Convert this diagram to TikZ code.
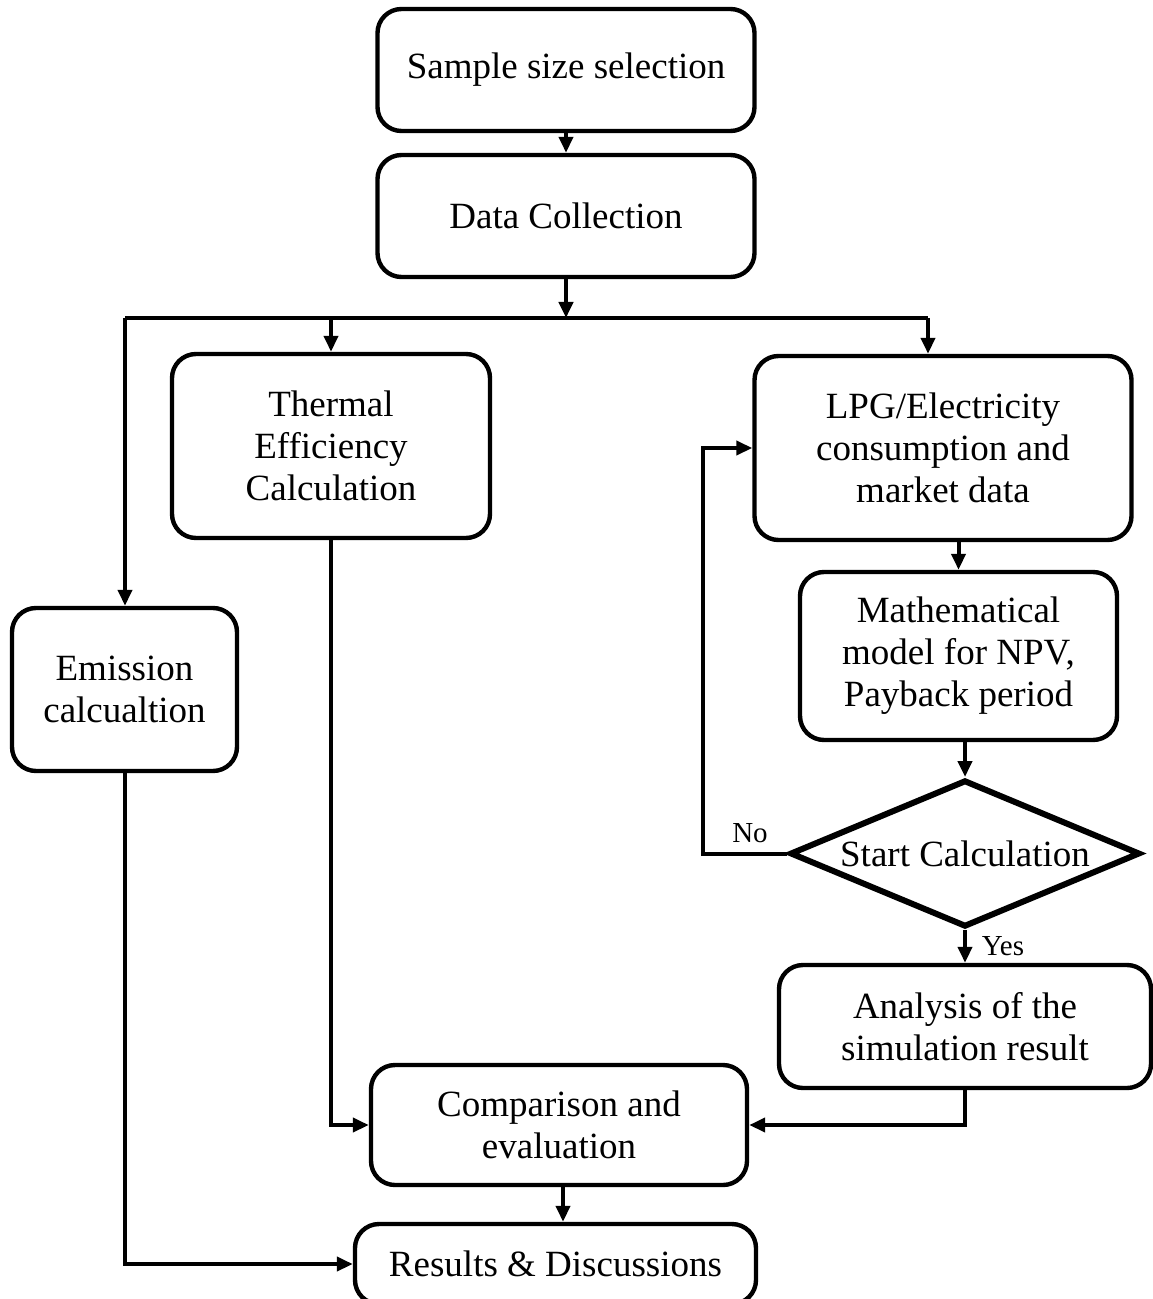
\documentclass[tikz,border=0pt]{standalone}
\usepackage{fontspec}
\setmainfont{Liberation Serif}
\usetikzlibrary{shapes.geometric,arrows.meta}
\begin{document}
\begin{tikzpicture}[x=0.5pt,y=-0.5pt,
  box/.style={draw,line width=2.2pt,rounded corners=12pt,align=center,inner sep=0pt,
    font=\fontsize{18.5}{21}\selectfont},
  dia/.style={draw,line width=3pt,diamond,aspect=2.4,inner sep=0pt,
    minimum width=175pt,minimum height=73.5pt,font=\fontsize{18.5}{21}\selectfont},
  arr/.style={line width=2pt,-{Triangle[length=8pt,width=7pt]}},
  ln/.style={line width=2pt},
  lbl/.style={font=\fontsize{14.5}{16}\selectfont,inner sep=0pt}]
\useasboundingbox (0,0) rectangle (1152,1299);
\node[box,minimum width=188.5pt,minimum height=61pt] (ss) at (566,70) {Sample size selection};
\node[box,minimum width=188.5pt,minimum height=61pt] (dc) at (566,216) {Data Collection};
\node[box,minimum width=159pt,minimum height=92pt] (th) at (331,446) {Thermal\\Efficiency\\Calculation};
\node[box,minimum width=188.5pt,minimum height=92pt] (lpg) at (943,448) {LPG/Electricity\\consumption and\\market data};
\node[box,minimum width=112.5pt,minimum height=81.5pt] (em) at (124.5,689.5) {Emission\\calcualtion};
\node[box,minimum width=158.5pt,minimum height=84pt] (mm) at (958.5,656) {Mathematical\\model for NPV,\\Payback period};
\node[dia] (dm) at (965,853.5) {Start Calculation};
\node[box,minimum width=186pt,minimum height=61.5pt] (an) at (965,1026.5) {Analysis of the\\simulation result};
\node[box,minimum width=188pt,minimum height=60pt] (cmp) at (559,1125) {Comparison and\\evaluation};
\node[box,minimum width=200.5pt,minimum height=40pt] (rs) at (555.5,1264) {Results \& Discussions};
\node[lbl] (no) at (750,833) {No};
\node[lbl] (yes) at (1003,946) {Yes};
\coordinate (j) at (566,318);
\coordinate (jl) at (125,318);
\coordinate (jt) at (331,318);
\coordinate (jr) at (928,318);
\coordinate (nc) at (703,452);
\coordinate (jc) at (563,1185);
\draw[arr] (ss) -- (dc);
\draw[arr] (dc) -- (j);
\draw[ln] (jl) -- (jr);
\draw[arr] (jl) -- (jl |- em.north);
\draw[arr] (jt) -- (th.north);
\draw[arr] (jr) -- (jr |- lpg.north);
\draw[arr] (mm.north |- lpg.south) -- (mm.north);
\draw[arr] (dm.north |- mm.south) -- (dm.north);
\draw[arr] (dm.west) -- (dm.west -| nc) |- (lpg.west);
\draw[arr] (dm.south) -- (an.north);
\draw[arr] (an.south) |- (cmp.east);
\draw[arr] (th.south) |- (cmp.west);
\draw[arr] (em.south) |- (rs.west);
\draw[arr] (jc) -- (jc |- rs.north);
\end{tikzpicture}
\end{document}
